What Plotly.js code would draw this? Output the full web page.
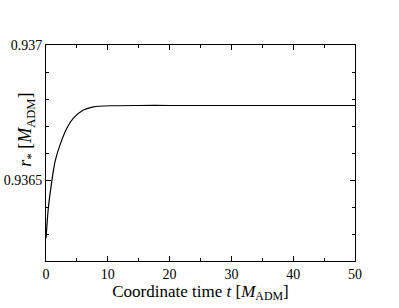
<!DOCTYPE html>
<html>
<head>
<meta charset="utf-8">
<script src="https://cdn.plot.ly/plotly-3.0.1.min.js"></script>
<style>
  html, body { margin: 0; padding: 0; background: #fff; }
  #chart { width: 399px; height: 308px; }
</style>
</head>
<body>
<div id="chart"></div>
<script>
// values
var time = [0, 0.37, 0.93, 1.46, 2.27, 3.35, 4.43, 6.05, 7.67, 10.4, 15, 20, 30, 40, 50];
var radius = [0.936284, 0.936395, 0.936494, 0.936568, 0.93663, 0.936691, 0.936729, 0.936759,
  0.936771, 0.936775, 0.936776, 0.936776, 0.936776, 0.936776, 0.936776];
var xTicks = [0, 10, 20, 30, 40, 50];
var xMinor = [5, 15, 25, 35, 45];
var yTicks = [0.9365, 0.937];
var yTickText = ["0.9365", "0.937"];
var yMinor = [0.9363, 0.9364, 0.9366, 0.9367, 0.9368, 0.9369];

var serif = "Liberation Serif, Times New Roman, serif";

Plotly.newPlot(
  "chart",
  [
    {
      x: time,
      y: radius,
      mode: "lines",
      line: { color: "black", width: 1.2, shape: "spline", smoothing: 0.6 },
      hoverinfo: "none",
    },
  ],
  {
    width: 399,
    height: 308,
    margin: { l: 46, r: 44, t: 45, b: 47 },
    paper_bgcolor: "white",
    plot_bgcolor: "white",
    showlegend: false,
    font: { family: serif, color: "black", size: 14 },
    xaxis: {
      range: [0, 50],
      tickmode: "array",
      tickvals: xTicks,
      ticks: "inside",
      ticklen: 5,
      tickcolor: "black",
      showline: true,
      linecolor: "black",
      linewidth: 1,
      mirror: "allticks",
      showgrid: false,
      zeroline: false,
      tickfont: { size: 14 },
      minor: { tickvals: xMinor, ticks: "inside", ticklen: 3, tickcolor: "black", showgrid: false },
      title: { text: "Coordinate time <i>t</i> [<i>M</i><sub>ADM</sub>]", font: { size: 17 }, standoff: 2 },
      fixedrange: true,
    },
    yaxis: {
      range: [0.9362, 0.937],
      tickmode: "array",
      tickvals: yTicks,
      ticktext: yTickText,
      ticks: "inside",
      ticklen: 5,
      tickcolor: "black",
      showline: true,
      linecolor: "black",
      linewidth: 1,
      mirror: "allticks",
      showgrid: false,
      zeroline: false,
      tickfont: { size: 14 },
      minor: { tickvals: yMinor, ticks: "inside", ticklen: 3, tickcolor: "black", showgrid: false },
      fixedrange: true,
    },
    annotations: [
      {
        text: "<i>r</i><sub>*</sub> [<i>M</i><sub>ADM</sub>]",
        xref: "paper",
        yref: "paper",
        x: -0.063,
        y: 0.606,
        xanchor: "center",
        yanchor: "middle",
        textangle: -90,
        showarrow: false,
        font: { size: 18 },
      },
    ],
  },
  { displayModeBar: false, staticPlot: true }
);
</script>
</body>
</html>
